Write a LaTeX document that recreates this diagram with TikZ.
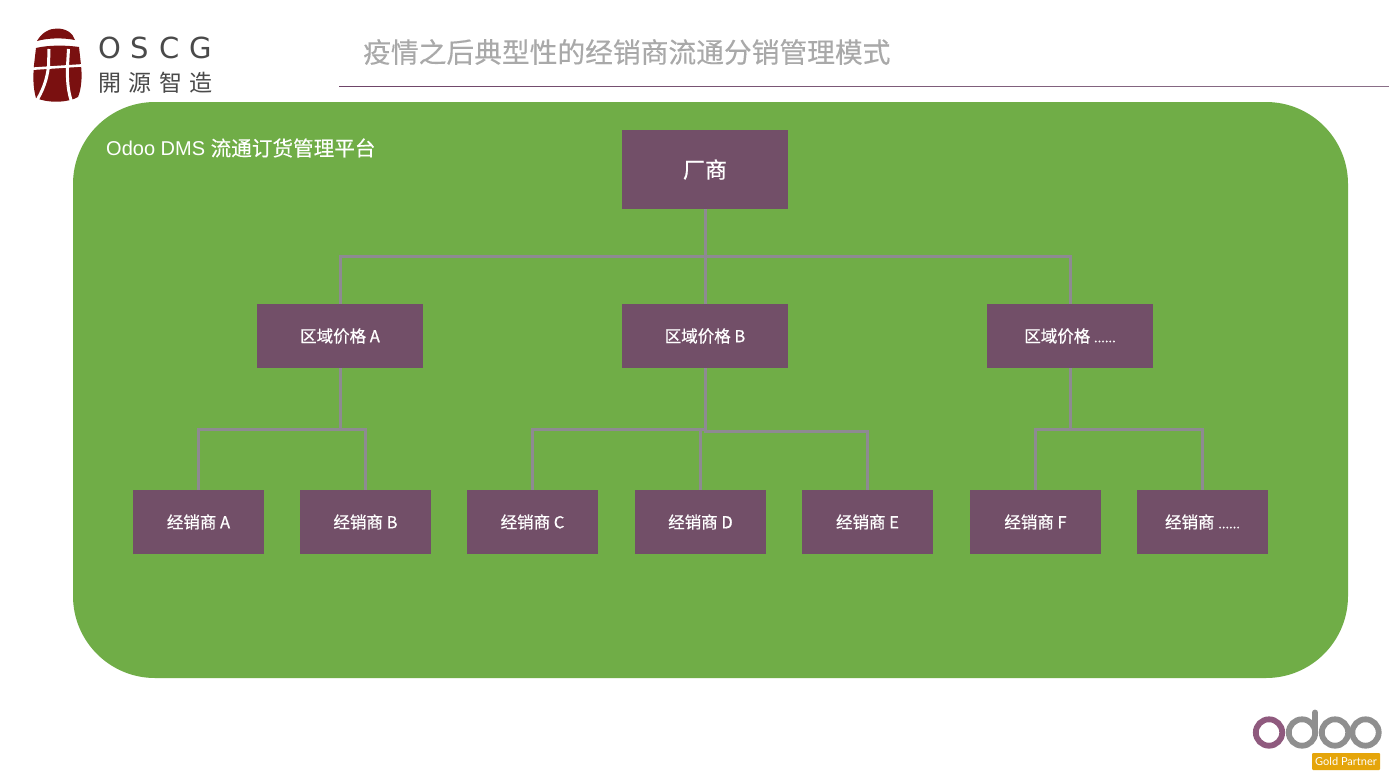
\documentclass[tikz,border=0pt]{standalone}
\usepackage{fontspec}
\setmainfont{Liberation Sans}
\newfontfamily\cjk{Noto Sans CJK SC}
\newfontfamily\cjkt[FakeBold=0.25]{Noto Sans CJK SC}
\newfontfamily\cjkb[FakeBold=0.6]{Noto Sans CJK SC}
\newfontfamily\oscg{DejaVu Sans}
\newfontfamily\lato{Lato}
\definecolor{plat}{HTML}{70AD47}
\definecolor{boxc}{HTML}{724F68}
\definecolor{linec}{HTML}{8E8A92}
\definecolor{titlec}{HTML}{A9A9A9}
\definecolor{logor}{HTML}{7A1010}
\definecolor{oscgc}{HTML}{4A4A4A}
\definecolor{odoop}{HTML}{8F5A7E}
\definecolor{odoog}{HTML}{8F8F8F}
\definecolor{gold}{HTML}{E5A50A}
\definecolor{ruleA}{HTML}{6E4468}
\definecolor{ruleB}{HTML}{8A6F88}
\newcommand{\tinydots}{{\fontsize{13}{15}\selectfont ......}}
\tikzset{
 boxbase/.style={fill=boxc,text=white,inner sep=0pt,anchor=center},
 topbox/.style={boxbase,minimum width=166pt,minimum height=79pt,font=\cjkb\fontsize{22}{26}\selectfont},
 midbox/.style={boxbase,minimum width=166pt,minimum height=64pt,font=\cjkb\fontsize{16.5}{20}\selectfont},
 lowbox/.style={boxbase,minimum width=131pt,minimum height=64pt,font=\cjkb\fontsize{16.5}{20}\selectfont},
 conn/.style={draw=linec,line width=3pt},
 connthin/.style={draw=linec,line width=2.2pt},
}
\begin{document}
\begin{tikzpicture}[x=1pt,y=-1pt]
\useasboundingbox (0,0) rectangle (1389,777);
\fill[white] (0,0) rectangle (1389,777);
% title
\node[anchor=west,inner sep=0pt,text=titlec,font=\cjkt\fontsize{27.75}{34}\selectfont] (title) at (363,52) {疫情之后典型性的经销商流通分销管理模式};
\shade[left color=ruleA,right color=ruleB] (339,86.15) rectangle (1389,86.85);
% platform
\fill[plat,rounded corners=82pt] (73,102) rectangle (1348,678);
\node[anchor=west,inner sep=0pt,text=white,font=\fontsize{20}{25}\selectfont] (plat) at (106,148) {Odoo DMS {\cjkt\fontsize{20.6}{25}\selectfont 流通订货管理平台}};
% nodes
\node[topbox] (top) at (705,169.5) {厂商};
\node[midbox] (ma) at (340,336) {区域价格 A};
\node[midbox] (mb) at (705,336) {区域价格 B};
\node[midbox] (mc) at (1070,336) {区域价格 \tinydots};
\node[lowbox] (la) at (198.5,522) {经销商 A};
\node[lowbox] (lb) at (365.5,522) {经销商 B};
\node[lowbox] (lc) at (532.5,522) {经销商 C};
\node[lowbox] (ld) at (700.5,522) {经销商 D};
\node[lowbox] (le) at (867.5,522) {经销商 E};
\node[lowbox] (lf) at (1035.5,522) {经销商 F};
\node[lowbox] (lg) at (1202.5,522) {经销商 \tinydots};
% connectors
\draw[conn] (top.south) -- (mb.north);
\draw[conn] (top.south) -- ++(0,47.5) -| (ma.north);
\draw[conn] (top.south) -- ++(0,47.5) -| (mc.north);
\draw[conn] (ma.south) -- ++(0,61) -| (la.north);
\draw[conn] (ma.south) -- ++(0,61) -| (lb.north);
\draw[conn] (mb.south) -- ++(0,61) -| (lc.north);
\draw[connthin] (mb.south) ++(0,61) -| (ld.north);
\draw[conn] (mb.south) -- ++(0,63) -| (le.north);
\draw[conn] (mc.south) -- ++(0,61) -| (lf.north);
\draw[conn] (mc.south) -- ++(0,61) -| (lg.north);
% OSCG logo
\fill[logor] (37,41) .. controls (42,32) and (50,28.5) .. (57,28.5) .. controls (66,28.5) and (73,33) .. (75,40) .. controls (62,37.5) and (48,38) .. (37,41) -- cycle;
\fill[logor] (36,48) .. controls (48,45) and (66,45) .. (79,47) -- (81,65) .. controls (82.5,78) and (81,90) .. (78,97) .. controls (70,102) and (50,104) .. (36,98) .. controls (33,88) and (33,76) .. (34,65) -- cycle;
\draw[white,line width=2.6pt] (28,69) -- (88,65);
\draw[white,line width=3pt] (49,49) -- (48.5,66) .. controls (47,80) and (43,90) .. (36,102);
\draw[white,line width=3pt] (68.5,49) -- (67.5,66) .. controls (67,80) and (68,92) .. (72,103);
\node[anchor=west,inner sep=0pt,text=oscgc,font=\oscg\fontsize{29}{34}\selectfont] (oscgt) at (98,48) {O\hspace{10pt}S\hspace{10pt}C\hspace{10pt}G};
\node[anchor=west,inner sep=0pt,text=oscgc,font=\cjk\fontsize{23}{28}\selectfont] (oscgz) at (98,83) {開\hspace{7.5pt}源\hspace{7.5pt}智\hspace{7.5pt}造};
% odoo logo
\draw[odoop,line width=5.8pt] (1269,732.5) circle (13.2);
\draw[odoog,line width=5.8pt] (1302,732.5) circle (13.2);
\draw[odoog,line width=5.8pt,line cap=round] (1315.2,732.5) -- (1315.2,712.5);
\draw[odoog,line width=5.8pt] (1335,732.5) circle (13.2);
\draw[odoog,line width=5.8pt] (1365.5,732.5) circle (13.2);
\node[fill=gold,text=white,rounded corners=1pt,minimum width=68pt,minimum height=17pt,inner sep=0pt,font=\lato\fontsize{11}{13}\selectfont] (gold) at (1346,761.5) {Gold Partner};
\end{tikzpicture}
\end{document}
